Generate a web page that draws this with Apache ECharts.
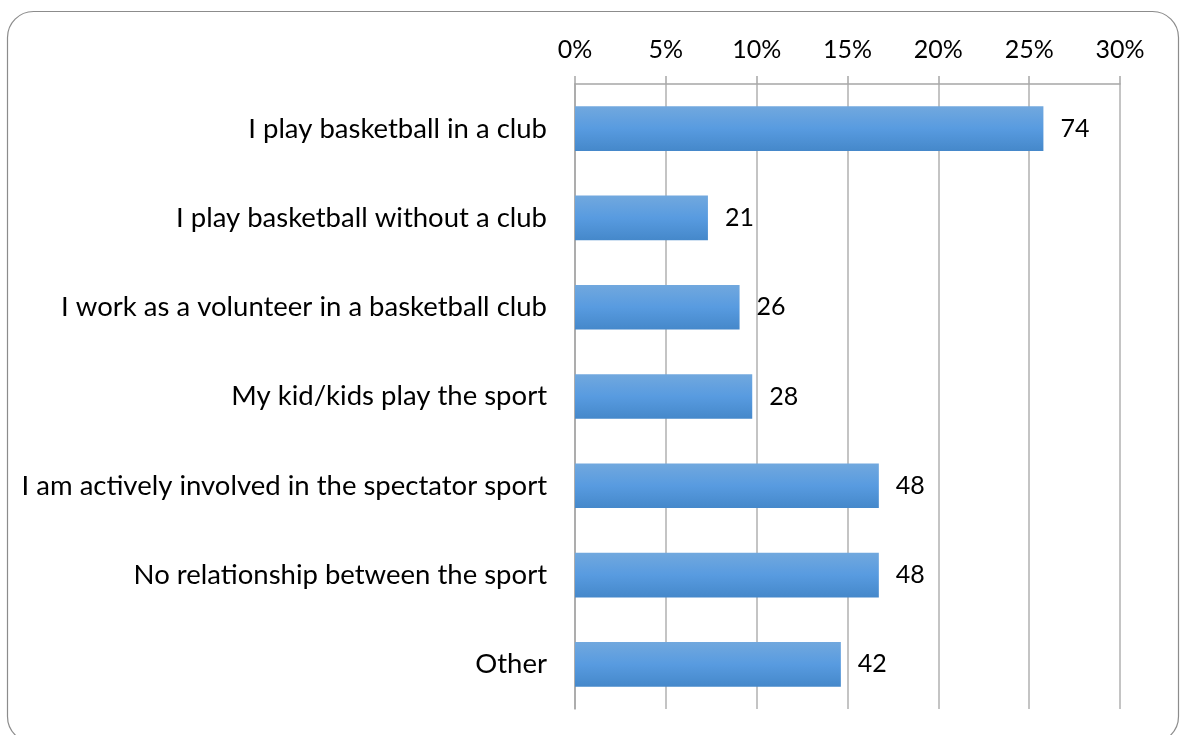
<!DOCTYPE html>
<html>
<head>
<meta charset="utf-8">
<script src="https://cdn.jsdelivr.net/npm/echarts@6/dist/echarts.min.js"></script>
<style>
  html, body { margin: 0; padding: 0; background: #ffffff; }
  #chart { width: 1186px; height: 735px; }
</style>
</head>
<body>
<div id="chart"></div>
<script>
// Survey answers: how respondents relate to basketball
const categories = [
  'I play basketball in a club',
  'I play basketball without a club',
  'I work as a volunteer in a basketball club',
  'My kid/kids play the sport',
  'I am actively involved in the spectator sport',
  'No relationship between the sport',
  'Other'
];
const counts = [74, 21, 26, 28, 48, 48, 42];
const percentTicks = [0, 5, 10, 15, 20, 25, 30];

// Bar length is the share of all answers; the label shows the raw count
const total = counts.reduce((a, b) => a + b, 0);
const shares = counts.map(c => (c / total) * 100);

const FONT = 'Lato, "Open Sans", sans-serif';
const chart = echarts.init(document.getElementById('chart'), null, { renderer: 'canvas' });

chart.setOption({
  backgroundColor: '#ffffff',
  animation: false,
  graphic: [{
    type: 'rect',
    shape: { x: 7.5, y: 11.5, width: 1171, height: 731, r: 26 },
    style: { fill: 'none', stroke: '#8c8c8c', lineWidth: 1.2 },
    silent: true,
    z: -1
  }],
  grid: { left: 575, right: 66, top: 84, bottom: 26, containLabel: false },
  xAxis: {
    type: 'value',
    position: 'top',
    min: percentTicks[0],
    max: percentTicks[percentTicks.length - 1],
    interval: percentTicks[1] - percentTicks[0],
    axisLine: { show: true, lineStyle: { color: '#a6a6a6', width: 1.5 } },
    axisTick: { show: true, length: 8, lineStyle: { color: '#a6a6a6', width: 1.5 } },
    splitLine: { show: true, lineStyle: { color: '#c4c4c4', width: 2 } },
    axisLabel: {
      formatter: '{value}%',
      color: '#000000',
      fontFamily: FONT,
      fontSize: 25,
      margin: 22
    }
  },
  yAxis: {
    type: 'category',
    data: categories,
    inverse: true,
    axisLine: { show: true, lineStyle: { color: '#a6a6a6', width: 1.5 } },
    axisTick: { show: false },
    axisLabel: {
      color: '#000000',
      fontFamily: FONT,
      fontSize: 27.5,
      margin: 28
    }
  },
  series: [{
    type: 'bar',
    data: shares,
    barWidth: '50%',
    itemStyle: {
      color: new echarts.graphic.LinearGradient(0, 0, 0, 1, [
        { offset: 0, color: '#71a8de' },
        { offset: 0.5, color: '#589be0' },
        { offset: 1, color: '#4588ca' }
      ])
    },
    label: {
      show: true,
      position: 'right',
      distance: 17,
      color: '#000000',
      fontFamily: FONT,
      fontSize: 25,
      formatter: p => String(counts[p.dataIndex])
    }
  }]
});
</script>
</body>
</html>
